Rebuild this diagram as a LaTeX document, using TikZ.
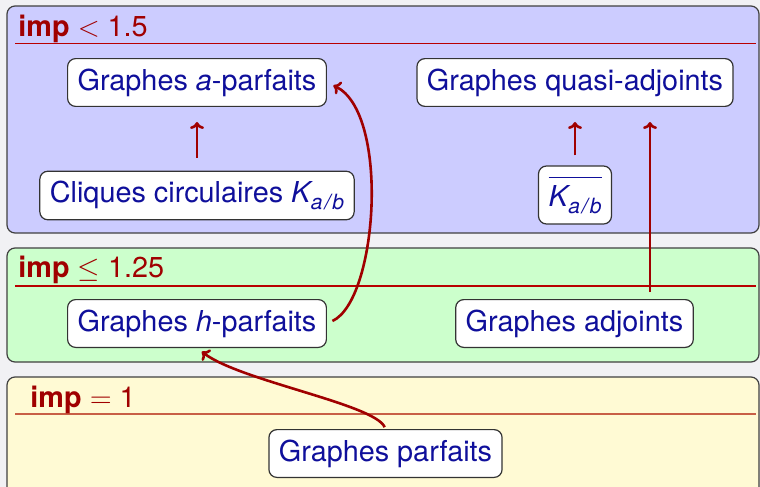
\documentclass[tikz,border=0pt]{standalone}
\usepackage{fontspec}
\setmainfont{TeX Gyre Heros}
\usetikzlibrary{arrows.meta}
\definecolor{bggray}{HTML}{F1F1F4}
\definecolor{blkblue}{HTML}{CCCCFF}
\definecolor{blkgreen}{HTML}{CCFFCC}
\definecolor{blkyellow}{HTML}{FFFAD4}
\definecolor{nodeblue}{RGB}{15,15,155}
\definecolor{titlered}{RGB}{160,0,0}
\definecolor{rulered}{RGB}{185,0,0}
\definecolor{ruleorange}{RGB}{200,95,70}
\newcommand{\kab}{{\itshape K\kern0.3pt\raisebox{-3.3pt}{\fontsize{10.5}{12}\selectfont\itshape a\kern1pt/\kern1pt b}}}
\begin{document}
\begin{tikzpicture}[x=0.5pt,y=-0.5pt,
  every node/.style={font=\fontsize{14.4}{17}\selectfont},
  box/.style={draw=black!80, fill=white, rounded corners=4pt, line width=0.6pt,
              inner xsep=5pt, inner ysep=5pt, text=nodeblue},
  block/.style={draw=black!75, rounded corners=4pt, line width=0.6pt},
  title/.style={anchor=base west, inner sep=0pt, text=titlered},
  rule/.style={line width=0.6pt},
  link/.style={draw=titlered, line width=1.3pt, -{To[length=3.5pt,width=7pt]}}
]
\clip (0,0) rectangle (760,487);
\fill[bggray] (0,0) rectangle (760,487);
% blocks
\draw[block, fill=blkblue] (7,6) rectangle (759,233);
\draw[block, fill=blkgreen] (7,248) rectangle (759,362);
\draw[block, fill=blkyellow] (7,377) rectangle (759,500);
\draw[rule, draw=rulered] (15,43.5) -- (756,43.5);
\draw[rule, draw=rulered] (15,286) -- (756,286);
\draw[rule, draw=ruleorange] (15,414) -- (756,414);
\node[title] (t1) at (18,36) {\textbf{imp} $<$ 1.5};
\node[title] (t2) at (18,277) {\textbf{imp} $\leq$ 1.25};
\node[title] (t3) at (30,407) {\textbf{imp} $=$ 1};
% nodes
\node[box] (ap) at (197,82.5) {Graphes \textit{a}-parfaits};
\node[box] (qa) at (575,82.5) {Graphes quasi-adjoints};
\node[box] (cc) at (197,195.5) {Cliques circulaires \kab};
\node[box] (kb) at (575,195) {$\overline{\mbox{\rule{0pt}{13.5pt}\kab}}$};
\node[box] (hp) at (197,323.5) {Graphes \textit{h}-parfaits};
\node[box] (adj) at (574.5,323.5) {Graphes adjoints};
\node[box] (gp) at (385.5,453.5) {Graphes parfaits};
% links
\draw[link, shorten <=6.5pt, shorten >=7.5pt] (cc.north) -- (ap.south);
\draw[link, shorten <=5pt, shorten >=7.5pt] (kb.north) -- (qa.south);
\draw[link, shorten <=3.5pt, shorten >=7.5pt] ([xshift=37.75pt]adj.north) -- ([xshift=37.75pt]adj.north |- qa.south);
\draw[link, shorten <=3pt, shorten >=3.5pt] (hp.east) .. controls +(51,-23.5) and +(63,29.5) .. (ap.east);
\draw[link, shorten <=1pt, shorten >=3pt] (gp.north) .. controls +(-11,-25) and +(43,33) .. (hp.south);
\end{tikzpicture}
\end{document}
